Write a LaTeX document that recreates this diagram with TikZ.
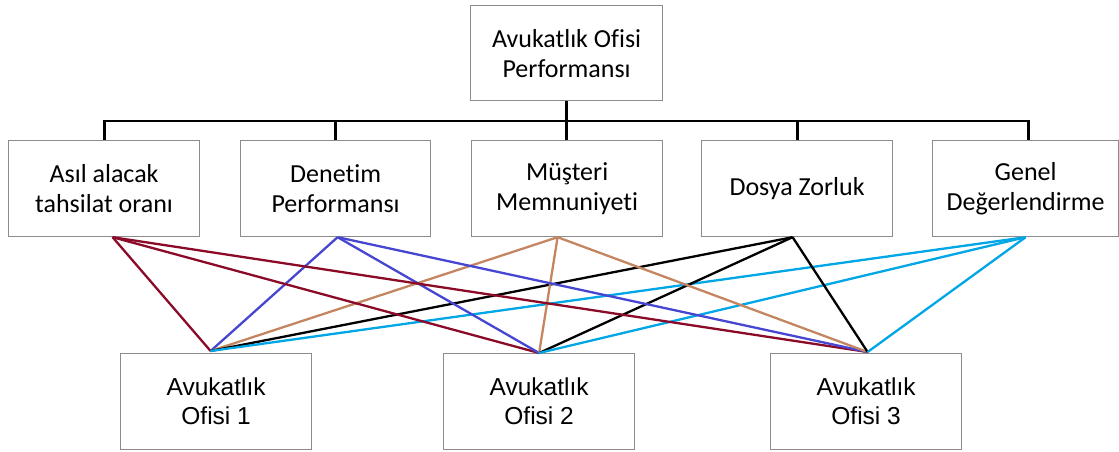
\documentclass[tikz,border=0pt]{standalone}
\usepackage{fontspec}
\newfontfamily\calibfont[Ligatures=NoCommon]{Carlito}
\newfontfamily\arialfont{Liberation Sans}
\definecolor{boxgray}{RGB}{140,140,140}
\definecolor{linkred}{RGB}{139,10,40}
\definecolor{linkblue}{RGB}{70,70,210}
\definecolor{linktan}{RGB}{196,134,96}
\definecolor{linksky}{RGB}{0,166,230}
\begin{document}
\begin{tikzpicture}[x=1pt,y=-1pt]
\tikzset{
  box/.style={draw=boxgray, line width=1.2pt, fill=white, inner sep=0pt,
              align=center, anchor=north west},
  crit/.style={box, font=\calibfont\fontsize{26}{30}\selectfont, minimum height=96pt},
  office/.style={box, font=\arialfont\fontsize{24.5}{29}\selectfont,
                 minimum height=96pt, minimum width=191pt},
  tree/.style={line width=2.8pt, black},
  link/.style={line width=2.3pt}
}
\useasboundingbox (0,0) rectangle (1119,452);

% hierarchy boxes
\node[crit, minimum width=192pt, minimum height=95pt] (top) at (470,5) {Avukatlık Ofisi\\Performansı};
\node[crit, minimum width=191pt] (k1) at (8,140)   {Asıl alacak\\tahsilat oranı};
\node[crit, minimum width=190pt] (k2) at (240,140) {Denetim\\Performansı};
\node[crit, minimum width=191pt] (k3) at (471,140) {Müşteri\\Memnuniyeti};
\node[crit, minimum width=191pt] (k4) at (701,140) {Dosya Zorluk};
\node[crit, minimum width=186pt] (k5) at (932,140) {Genel\\Değerlendirme};

% alternatives
\node[office] (o1) at (120,353) {Avukatlık\\Ofisi 1};
\node[office] (o2) at (443,353) {Avukatlık\\Ofisi 2};
\node[office] (o3) at (770,353) {Avukatlık\\Ofisi 3};

% tree connectors
\coordinate (bar) at (0,121);
\coordinate (k5d) at ([xshift=3pt]k5.north);
\draw[tree] (top.south) -- (top.south |- k3.north);
\draw[tree] (k1.north) -- (k1.north |- bar) -- (k5d |- bar) -- (k5d);
\draw[tree] (k2.north) -- (k2.north |- bar);
\draw[tree] (k4.north) -- (k4.north |- bar);

% link ports
\coordinate (k1p) at ([xshift=8.5pt]k1.south);
\coordinate (k2p) at ([xshift=2pt]k2.south);
\coordinate (k3p) at ([xshift=-9.5pt]k3.south);
\coordinate (k4p) at ([xshift=-4.5pt]k4.south);
\coordinate (k5p) at (k5.south);
\coordinate (o1p) at ([xshift=-5.5pt,yshift=2pt]o1.north);
\coordinate (o2p) at (o2.north);
\coordinate (o3p) at ([xshift=1.5pt,yshift=1pt]o3.north);

% criterion-to-alternative links
\foreach \o in {o1p,o2p,o3p}{
  \draw[link, linkred]  (k1p) -- (\o);
  \draw[link, linkblue] (k2p) -- (\o);
  \draw[link, linktan]  (k3p) -- (\o);
  \draw[link, black]    (k4p) -- (\o);
  \draw[link, linksky]  (k5p) -- (\o);
}
\end{tikzpicture}
\end{document}
